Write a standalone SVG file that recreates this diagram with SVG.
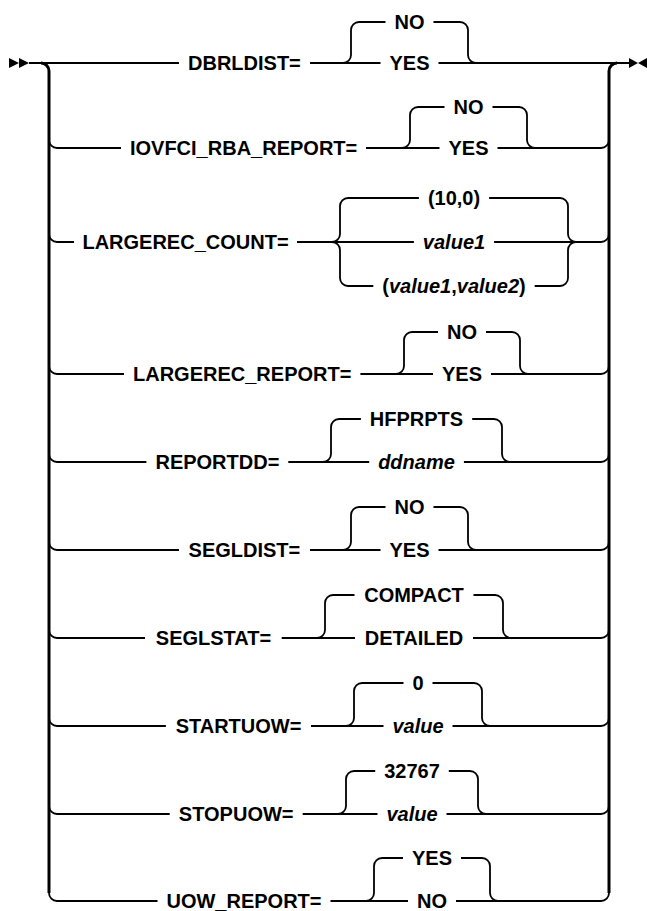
<svg xmlns="http://www.w3.org/2000/svg" width="647" height="911" viewBox="0 0 647 911">
<style>
.t{font-family:"Liberation Sans",Arial,sans-serif;font-size:20px;font-weight:bold;fill:#000;text-anchor:middle}
.i{font-style:italic}
.l{fill:none;stroke:#000;stroke-width:1.8}
.bar{fill:none;stroke:#000;stroke-width:3}
.mk{fill:#000}
</style>
<rect width="647" height="911" fill="#fff"/>
<g id="connectors">
<polygon class="mk" points="9,58 19,63 9,68"/>
<polygon class="mk" points="19,58 29,63 19,68"/>
<polygon class="mk" points="629,58 638,63 629,68"/>
<polygon class="mk" points="647,58 638,63 647,68"/>
<path class="bar" d="M41,63 A8,8 0 0 1 49,71 V893"/>
<path class="bar" d="M617,63 A8,8 0 0 0 609,71 V893"/>
<!-- row 1 -->
<path class="l" d="M29,63 H179 M310,63 H380.5 M438.5,63 H629"/>
<path class="l" d="M343,63 A8,8 0 0 0 351,55 V30 A8,8 0 0 1 359,22 H385.5 M433.5,22 H460 A8,8 0 0 1 468,30 V55 A8,8 0 0 0 476,63"/>
<!-- row 2 -->
<path class="l" d="M49,140 A8,8 0 0 0 57,148 H121 M366,148 H439.5 M497.5,148 H601 A8,8 0 0 0 609,140"/>
<path class="l" d="M402,148 A8,8 0 0 0 410,140 V115 A8,8 0 0 1 418,107 H444.5 M492.5,107 H519 A8,8 0 0 1 527,115 V140 A8,8 0 0 0 535,148"/>
<!-- row 3 -->
<path class="l" d="M49,234 A8,8 0 0 0 57,242 H74 M297,242 H413.9 M494.1,242 H601 A8,8 0 0 0 609,234"/>
<path class="l" d="M348,198 H418.9 M489.1,198 H560 M348,286 H373.3 M534.7,286 H560"/>
<path class="l" d="M332,242 A8,8 0 0 0 340,234 V206 A8,8 0 0 1 348,198 M332,242 A8,8 0 0 1 340,250 V278 A8,8 0 0 0 348,286"/>
<path class="l" d="M560,198 A8,8 0 0 1 568,206 V234 A8,8 0 0 0 576,242 M560,286 A8,8 0 0 0 568,278 V250 A8,8 0 0 1 576,242"/>
<!-- row 4 -->
<path class="l" d="M49,366 A8,8 0 0 0 57,374 H124 M360.4,374 H433 M491,374 H601 A8,8 0 0 0 609,366"/>
<path class="l" d="M396,374 A8,8 0 0 0 404,366 V340 A8,8 0 0 1 412,332 H438 M486,332 H512 A8,8 0 0 1 520,340 V366 A8,8 0 0 0 528,374"/>
<!-- row 5 -->
<path class="l" d="M49,454 A8,8 0 0 0 57,462 H146.4 M288.3,462 H369.2 M463.9,462 H601 A8,8 0 0 0 609,454"/>
<path class="l" d="M323,462 A8,8 0 0 0 331,454 V427 A8,8 0 0 1 339,419 H360.9 M472.2,419 H494 A8,8 0 0 1 502,427 V454 A8,8 0 0 0 510,462"/>
<!-- row 6 -->
<path class="l" d="M49,542 A8,8 0 0 0 57,550 H179 M310,550 H380.5 M438.5,550 H601 A8,8 0 0 0 609,542"/>
<path class="l" d="M343,550 A8,8 0 0 0 351,542 V515 A8,8 0 0 1 359,507 H385.5 M433.5,507 H460 A8,8 0 0 1 468,515 V542 A8,8 0 0 0 476,550"/>
<!-- row 7 -->
<path class="l" d="M49,630 A8,8 0 0 0 57,638 H145 M281.7,638 H355 M473,638 H601 A8,8 0 0 0 609,630"/>
<path class="l" d="M317,638 A8,8 0 0 0 325,630 V603 A8,8 0 0 1 333,595 H354.5 M473.5,595 H495 A8,8 0 0 1 503,603 V630 A8,8 0 0 0 511,638"/>
<!-- row 8 -->
<path class="l" d="M49,718 A8,8 0 0 0 57,726 H165.9 M311,726 H383.5 M452.5,726 H601 A8,8 0 0 0 609,718"/>
<path class="l" d="M346,726 A8,8 0 0 0 354,718 V691 A8,8 0 0 1 362,683 H403.5 M432.5,683 H474 A8,8 0 0 1 482,691 V718 A8,8 0 0 0 490,726"/>
<!-- row 9 -->
<path class="l" d="M49,806 A8,8 0 0 0 57,814 H169.7 M302.7,814 H377.5 M446.5,814 H601 A8,8 0 0 0 609,806"/>
<path class="l" d="M338,814 A8,8 0 0 0 346,806 V779 A8,8 0 0 1 354,771 H375.2 M448.8,771 H470 A8,8 0 0 1 478,779 V806 A8,8 0 0 0 486,814"/>
<!-- row 10 -->
<path class="l" d="M49,893 A8,8 0 0 0 57,901 H157.5 M330.5,901 H408 M456,901 H601 A8,8 0 0 0 609,893"/>
<path class="l" d="M366,901 A8,8 0 0 0 374,893 V866 A8,8 0 0 1 382,858 H403 M461,858 H482 A8,8 0 0 1 490,866 V893 A8,8 0 0 0 498,901"/>
</g>
<g id="dbrldist"><text class="t" x="244.4" y="70">DBRLDIST=</text></g>
<g id="dbrldist-no"><text class="t" x="409.5" y="29">NO</text></g>
<g id="dbrldist-yes"><text class="t" x="409.5" y="70">YES</text></g>
<g id="iovfci"><text class="t" x="243.6" y="155">IOVFCI_RBA_REPORT=</text></g>
<g id="iovfci-no"><text class="t" x="468.5" y="114">NO</text></g>
<g id="iovfci-yes"><text class="t" x="468.5" y="155">YES</text></g>
<g id="largerec-count"><text class="t" x="185.5" y="249">LARGEREC_COUNT=</text></g>
<g id="largerec-count-default"><text class="t" x="454" y="205">(10,0)</text></g>
<g id="largerec-count-value1"><text class="t i" x="454" y="249">value1</text></g>
<g id="largerec-count-pair"><text class="t" x="454" y="293">(<tspan class="i">value1</tspan>,<tspan class="i">value2</tspan>)</text></g>
<g id="largerec-report"><text class="t" x="242.2" y="381">LARGEREC_REPORT=</text></g>
<g id="largerec-report-no"><text class="t" x="462" y="339">NO</text></g>
<g id="largerec-report-yes"><text class="t" x="462" y="381">YES</text></g>
<g id="reportdd"><text class="t" x="217.4" y="469">REPORTDD=</text></g>
<g id="reportdd-hfprpts"><text class="t" x="416.5" y="426">HFPRPTS</text></g>
<g id="reportdd-ddname"><text class="t i" x="416.5" y="469">ddname</text></g>
<g id="segldist"><text class="t" x="244.4" y="557">SEGLDIST=</text></g>
<g id="segldist-no"><text class="t" x="409.5" y="514">NO</text></g>
<g id="segldist-yes"><text class="t" x="409.5" y="557">YES</text></g>
<g id="seglstat"><text class="t" x="213.5" y="645">SEGLSTAT=</text></g>
<g id="seglstat-compact"><text class="t" x="414" y="602">COMPACT</text></g>
<g id="seglstat-detailed"><text class="t" x="414" y="645">DETAILED</text></g>
<g id="startuow"><text class="t" x="238.5" y="733">STARTUOW=</text></g>
<g id="startuow-0"><text class="t" x="418" y="690">0</text></g>
<g id="startuow-value"><text class="t i" x="418" y="733">value</text></g>
<g id="stopuow"><text class="t" x="236.2" y="821">STOPUOW=</text></g>
<g id="stopuow-32767"><text class="t" x="412" y="778">32767</text></g>
<g id="stopuow-value"><text class="t i" x="412" y="821">value</text></g>
<g id="uow-report"><text class="t" x="244" y="908">UOW_REPORT=</text></g>
<g id="uow-report-yes"><text class="t" x="432" y="865">YES</text></g>
<g id="uow-report-no"><text class="t" x="432" y="908">NO</text></g>
</svg>
